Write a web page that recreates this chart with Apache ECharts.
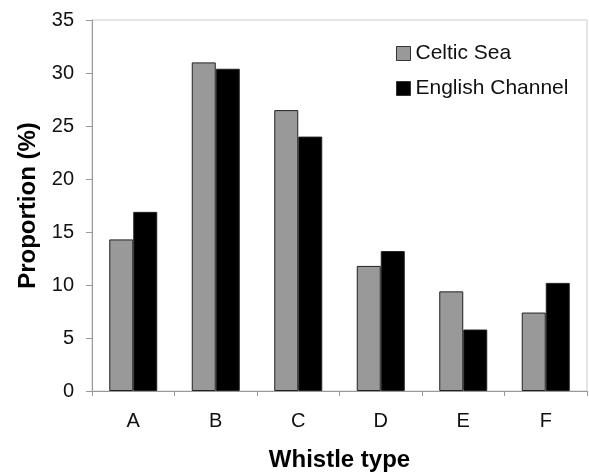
<!DOCTYPE html>
<html><head><meta charset="utf-8">
<script src="https://cdn.jsdelivr.net/npm/echarts@6/dist/echarts.min.js"></script>
<style>html,body{margin:0;padding:0;background:#fff}#c{width:589px;height:474px}</style>
</head><body><div id="c"></div>
<script>
const categories = ['A','B','C','D','E','F'];
const celticSea = [14.3, 31.0, 26.5, 11.8, 9.4, 7.4];
const englishChannel = [16.9, 30.4, 24.0, 13.2, 5.8, 10.2];
const yTicks = [0,5,10,15,20,25,30,35];

const chart = echarts.init(document.getElementById('c'));
const font = 'Liberation Sans, Arial, sans-serif';
chart.setOption({
  animation: false,
  backgroundColor: '#fff',
  grid: {left: 92, right: 2, top: 20, bottom: 83, show: true, borderColor: '#cccccc', borderWidth: 1,
         containLabel: false, outerBoundsMode: 'none'},
  legend: {
    orient: 'vertical', left: 391, top: 38, itemWidth: 14, itemHeight: 14, itemGap: 14,
    icon: 'rect',
    textStyle: {fontFamily: font, fontSize: 21, color: '#111'},
    data: [
      {name: 'Celtic Sea', itemStyle: {color: '#999999', borderColor: '#333', borderWidth: 1}},
      {name: 'English Channel', itemStyle: {color: '#000', borderColor: '#333', borderWidth: 1}}
    ]
  },
  xAxis: {
    type: 'category', data: categories,
    name: 'Whistle type', nameLocation: 'middle', nameGap: 57,
    nameTextStyle: {fontFamily: font, fontSize: 24, fontWeight: 'bold', color: '#000'},
    axisLine: {lineStyle: {color: '#999', width: 1}},
    axisTick: {show: true, alignWithLabel: false, length: 5, lineStyle: {color: '#999'}},
    axisLabel: {fontFamily: font, fontSize: 20, color: '#111', margin: 20}
  },
  yAxis: {
    type: 'value', min: 0, max: 35, interval: 5,
    name: 'Proportion (%)', nameLocation: 'middle', nameGap: 51,
    nameTextStyle: {fontFamily: font, fontSize: 24, fontWeight: 'bold', color: '#000'},
    axisLine: {show: true, lineStyle: {color: '#999', width: 1}},
    axisTick: {show: true, length: 6, lineStyle: {color: '#999'}},
    splitLine: {show: false},
    axisLabel: {fontFamily: font, fontSize: 20, color: '#111', margin: 18,
      formatter: v => yTicks.includes(v) ? String(v) : ''}
  },
  series: [
    {name: 'Celtic Sea', type: 'bar', data: celticSea, barWidth: 24, barGap: '0%',
     itemStyle: {color: '#999999', borderColor: '#222', borderWidth: 1}},
    {name: 'English Channel', type: 'bar', data: englishChannel, barWidth: 24, barGap: '0%',
     itemStyle: {color: '#000000', borderColor: '#222', borderWidth: 1}}
  ]
});
</script></body></html>
